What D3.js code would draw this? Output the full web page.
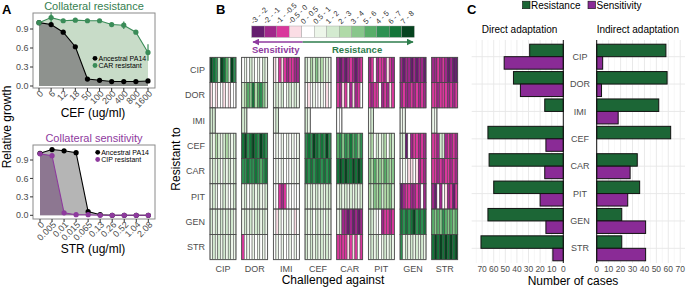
<html>
<head>
<script src="https://d3js.org/d3.v7.min.js"></script>
<style>
  body { margin: 0; background: white; }
  text { font-family: "Liberation Sans", Arial, sans-serif; }
</style>
</head>
<body>
<svg id="fig" width="686" height="287"></svg>
<script>
// ---- panel A data ----
const cefDoses = ["0","6","12","18","50","100","200","400","800","1600"];
const cefAncestral = [1.0,0.97,0.85,0.62,0.11,0.09,0.07,0.07,0.07,0.08];
const cefCarRes = [1.0,1.08,1.03,1.04,1.03,1.03,0.97,0.96,0.85,0.53];
const cefCarErr = [0,0.09,0.02,0.02,0.02,0.02,0.02,0.06,0.03,0.13];

const strDoses = ["0","0.005","0.01","0.015","0.065","0.13","0.26","0.52","1.04","2.08"];
const strAncestral = [1.01,1.07,1.05,1.02,0.06,0.01,0,0,0,0];
const strCipRes = [1.0,0.97,0.04,0.01,0.01,0,0,0,0,0];

const growthTicks = [0, 0.3, 0.6, 0.9];

// ---- panel B data (colour bin per population, 0..c) ----
const drugs = ["CIP","DOR","IMI","CEF","CAR","PIT","GEN","STR"];
const binLabels = ["-3 - -2","-2 - -1","-1 - -0.5","-0.5 - 0","0 - 0.5","0.5 - 1","1 - 2","2 - 3","3 - 4","5 - 6","4 - 5","6 - 7","7 - 8"];
const binColors = ["#651d6e","#a0278a","#d9389c","#fbdde5","#ffffff","#edf6ea","#d3ead0","#b0daa8","#88c68b","#58ad69","#2d9152","#137539","#06431f"];

// columns: challenged against CIP..STR
const heatCIP = ["cba6cb96ca","4546545465","3423212211","6576867565","1010121012","1241221321","1011010110","1121210100"];
const heatDOR = ["3434434344","6798b79a86","5656456565","4345445434","2132413124","2122412132","1211212121","2212221212"];
const heatIMI = ["66","66","56","65","44","56","55","55"];
const heatCEF = ["6576567656","bcabcbacba","4545454545","abacbabaca","9a8a9b9a8a","6746567476","6604122121","2216612121"];
const heatCAR = ["5656465656","aabaaba9ab","4545444545","bababbabab","bcbcbbcbcb","8797879878","4543343121","2212122121"];
const heatPIT = ["5654565456","5645656556","4421244444","6565656566","5656565656","7687867786","0122112141","1041431202"];
const heatGEN = ["6565656565","5656566565","4354545434","6564656465","5611010101","6654412212","bababcabab","9898a98989"];
const heatSTR = ["5656565655","2454545454","4545445454","6565656565","2222323242","5656456565","a565656565","bcbcbcbcbc"];

// ---- panel C data ----
const directRes = [29,43,16,65,64,60,65,71];
const directSens = [51,37,0,15,16,20,15,9];
const indirectRes = [58,59,52,62,34,36,21,21];
const indirectSens = [5,4,18,0,28,26,41,41];
const caseTicks = [0,10,20,30,40,50,60,70];

const svg = d3.select("#fig");
const GREEN = "#3a8c58", PURPLE = "#8e3a9e", AXIS = "#4d4d4d";

// panel letters
[["A",2],["B",216],["C",467]].forEach(([t,x]) => {
  svg.append("text").attr("x", x).attr("y", 14).attr("font-size", 13)
    .attr("font-weight", "bold").text(t);
});

function growthPanel(o) {
  const g = svg.append("g");
  const x = d3.scalePoint().domain(o.doses).range(o.xr);
  const y = d3.scaleLinear().domain([0, 0.9]).range(o.yr);
  const [x0, y0, x1, y1] = o.box;

  g.append("rect").attr("x", x0).attr("y", y0).attr("width", x1 - x0)
    .attr("height", y1 - y0).attr("fill", "white");

  const area = d3.area().x((d, i) => x(o.doses[i])).y0(y(0)).y1(d => y(d));
  const line = d3.line().x((d, i) => x(o.doses[i])).y(d => y(d));

  o.fills.forEach(f => {
    g.append("path").attr("d", area(f.vals)).attr("fill", f.fill);
  });

  if (o.err) {
    g.selectAll("line.err").data(o.err).join("line")
      .attr("x1", (d, i) => x(o.doses[i])).attr("x2", (d, i) => x(o.doses[i]))
      .attr("y1", (d, i) => y(o.series[1].vals[i] - d))
      .attr("y2", (d, i) => y(o.series[1].vals[i] + d))
      .attr("stroke", o.series[1].color).attr("stroke-width", 1.2);
  }

  o.series.forEach(s => {
    g.append("path").attr("d", line(s.vals)).attr("fill", "none")
      .attr("stroke", s.color).attr("stroke-width", 1.1);
    g.selectAll(null).data(s.vals).join("circle")
      .attr("cx", (d, i) => x(o.doses[i])).attr("cy", d => y(d))
      .attr("r", 2.6).attr("fill", s.color);
  });

  g.append("rect").attr("x", x0).attr("y", y0).attr("width", x1 - x0)
    .attr("height", y1 - y0).attr("fill", "none").attr("stroke", "#8a8a8a");

  growthTicks.forEach(t => {
    g.append("line").attr("x1", x0 - 3).attr("x2", x0).attr("y1", y(t)).attr("y2", y(t))
      .attr("stroke", "#333");
    g.append("text").attr("x", x0 - 4.5).attr("y", y(t)).attr("dy", "0.35em")
      .attr("text-anchor", "end").attr("font-size", 9).attr("fill", AXIS)
      .text(d3.format(".1f")(t));
  });

  o.doses.forEach(d => {
    g.append("line").attr("x1", x(d)).attr("x2", x(d)).attr("y1", y1).attr("y2", y1 + 3)
      .attr("stroke", "#333");
    g.append("text").attr("transform", `translate(${x(d) + 2.5},${y1 + 4}) rotate(-45)`)
      .attr("text-anchor", "end").attr("dy", "0.35em").attr("font-size", 9)
      .attr("fill", AXIS).text(d);
  });

  g.append("text").attr("x", 94).attr("y", o.titleY).attr("text-anchor", "middle")
    .attr("font-size", 11).attr("fill", o.titleColor).text(o.title);
  g.append("text").attr("x", 93).attr("y", o.xlabY).attr("text-anchor", "middle")
    .attr("font-size", 12).text(o.xlab);

  o.series.forEach((s, i) => {
    const ly = o.legY + i * 7.2;
    g.append("circle").attr("cx", o.legX).attr("cy", ly).attr("r", 2.4).attr("fill", s.color);
    g.append("text").attr("x", o.legX + 3.5).attr("y", ly).attr("dy", "0.35em")
      .attr("font-size", 7).text(s.name);
  });
}

growthPanel({
  doses: cefDoses, box: [33, 13, 155, 88], xr: [39, 148], yr: [86, 29],
  fills: [{ vals: cefCarRes, fill: "#c8dcc8" }, { vals: cefAncestral, fill: "#8e928e" }],
  series: [{ vals: cefAncestral, color: "#000", name: "Ancestral PA14" },
           { vals: cefCarRes, color: GREEN, name: "CAR resistant" }],
  err: cefCarErr,
  title: "Collateral resistance", titleY: 10, titleColor: "#35804f",
  xlab: "CEF (ug/ml)", xlabY: 117, legX: 95, legY: 58.3
});

growthPanel({
  doses: strDoses, box: [33, 145, 155, 219], xr: [40, 148.3], yr: [215.3, 160],
  fills: [{ vals: strAncestral, fill: "#b5b5b5" }, { vals: strCipRes, fill: "#8d7791" }],
  series: [{ vals: strAncestral, color: "#000", name: "Ancestral PA14" },
           { vals: strCipRes, color: PURPLE, name: "CIP resistant" }],
  title: "Collateral sensitivity", titleY: 142, titleColor: PURPLE,
  xlab: "STR (ug/ml)", xlabY: 253, legX: 97.7, legY: 152.3
});

svg.append("text").attr("transform", "translate(11,127) rotate(-90)")
  .attr("text-anchor", "middle").attr("font-size", 12).text("Relative growth");

// ---- panel B ----
const gB = svg.append("g");
const binX = d3.scaleBand().domain(d3.range(binLabels.length)).range([251.7, 414.3]);
gB.selectAll("rect.bin").data(binLabels).join("rect")
  .attr("x", (d, i) => binX(i)).attr("y", 26).attr("width", binX.bandwidth()).attr("height", 11.3)
  .attr("fill", (d, i) => binColors[i]).attr("stroke", "#999").attr("stroke-width", 0.4);
gB.selectAll("text.bin").data(binLabels).join("text")
  .attr("transform", (d, i) => `translate(${binX(i) + 2},${24.5}) rotate(-45)`)
  .attr("font-size", 7.5).attr("fill", "#333").text(d => d);

gB.append("defs").html(
  `<marker id="ap" viewBox="0 0 10 10" refX="9" refY="5" markerWidth="5" markerHeight="5" orient="auto-start-reverse"><path d="M0,0L10,5L0,10z" fill="${PURPLE}"/></marker>` +
  `<marker id="ag" viewBox="0 0 10 10" refX="9" refY="5" markerWidth="5" markerHeight="5" orient="auto-start-reverse"><path d="M0,0L10,5L0,10z" fill="#2e7d4c"/></marker>`);
gB.append("line").attr("x1", 302.7).attr("x2", 253).attr("y1", 42).attr("y2", 42)
  .attr("stroke", PURPLE).attr("stroke-width", 1.4).attr("marker-end", "url(#ap)");
gB.append("line").attr("x1", 302.7).attr("x2", 413).attr("y1", 42).attr("y2", 42)
  .attr("stroke", "#2e7d4c").attr("stroke-width", 1.4).attr("marker-end", "url(#ag)");
gB.append("text").attr("x", 252).attr("y", 52.5).attr("font-size", 9.5).attr("font-weight", "bold")
  .attr("fill", PURPLE).text("Sensitivity");
gB.append("text").attr("x", 332).attr("y", 53).attr("font-size", 9.5).attr("font-weight", "bold")
  .attr("fill", "#2e7d4c").text("Resistance");

const heatRows = [heatCIP, heatDOR, heatIMI, heatCEF, heatCAR, heatPIT, heatGEN, heatSTR];
const colX = d3.scaleBand().domain(drugs).range([210, 457.7]).paddingInner(0.18);
const rowY = d3.scaleBand().domain(drugs).range([57.3, 259.7]);
const stripeX = d3.scaleBand().domain(d3.range(10)).range([0, colX.bandwidth()]);

heatRows.forEach((row, r) => {
  row.forEach((codes, c) => {
    const bx = colX(drugs[c]), by = rowY(drugs[r]);
    const cells = codes.split("").map(ch => parseInt(ch, 16));
    gB.selectAll(null).data(cells).join("rect")
      .attr("x", (d, k) => bx + stripeX(k)).attr("y", by)
      .attr("width", stripeX.bandwidth()).attr("height", rowY.bandwidth())
      .attr("fill", d => binColors[d]).attr("stroke", "#3a3a3a").attr("stroke-width", 0.45);
    gB.append("rect").attr("x", bx).attr("y", by)
      .attr("width", stripeX.bandwidth() * cells.length).attr("height", rowY.bandwidth())
      .attr("fill", "none").attr("stroke", "#4a4a4a").attr("stroke-width", 0.8);
  });
});

gB.selectAll("text.row").data(drugs).join("text")
  .attr("x", 205).attr("y", d => rowY(d) + rowY.bandwidth() / 2).attr("dy", "0.35em")
  .attr("text-anchor", "end").attr("font-size", 9).attr("fill", AXIS).text(d => d);
gB.selectAll("text.col").data(drugs).join("text")
  .attr("x", d => colX(d) + colX.bandwidth() / 2).attr("y", 272)
  .attr("text-anchor", "middle").attr("font-size", 9).attr("fill", AXIS).text(d => d);
gB.append("text").attr("x", 333).attr("y", 284).attr("text-anchor", "middle")
  .attr("font-size", 12).text("Challenged against");
gB.append("text").attr("transform", "translate(180,159) rotate(-90)")
  .attr("text-anchor", "middle").attr("font-size", 12).text("Resistant to");

// ---- panel C ----
const gC = svg.append("g");
const yC = d3.scaleBand().domain(drugs).range([43, 262]);
const yIn = d3.scaleBand().domain(["Resistance", "Sensitivity"]).range([1.2, yC.bandwidth() - 1.2]);
const barColor = { Resistance: "#1c6636", Sensitivity: "#8a2b96" };

function casePanel(x, x0, x1, res, sens) {
  const lo = Math.min(x0, x1), hi = Math.max(x0, x1);
  gC.append("rect").attr("x", lo).attr("y", 40).attr("width", hi - lo).attr("height", 223).attr("fill", "white");
  d3.range(5, 80, 10).forEach(v => {
    if (x(v) >= lo && x(v) <= hi)
      gC.append("line").attr("x1", x(v)).attr("x2", x(v)).attr("y1", 40).attr("y2", 263)
        .attr("stroke", "#f2f2f2").attr("stroke-width", 0.6);
  });
  caseTicks.forEach(v => {
    gC.append("line").attr("x1", x(v)).attr("x2", x(v)).attr("y1", 40).attr("y2", 263)
      .attr("stroke", "#e6e6e6").attr("stroke-width", 0.9);
    gC.append("text").attr("x", x(v)).attr("y", 272).attr("text-anchor", "middle")
      .attr("font-size", 8.5).attr("fill", AXIS).text(v);
  });
  drugs.forEach(d => {
    gC.append("line").attr("x1", lo).attr("x2", hi)
      .attr("y1", yC(d) + yC.bandwidth() / 2).attr("y2", yC(d) + yC.bandwidth() / 2)
      .attr("stroke", "#e6e6e6").attr("stroke-width", 0.9);
  });
  const rows = [];
  drugs.forEach((d, i) => {
    rows.push({ drug: d, type: "Resistance", v: res[i] });
    rows.push({ drug: d, type: "Sensitivity", v: sens[i] });
  });
  gC.selectAll(null).data(rows.filter(r => r.v > 0)).join("rect")
    .attr("x", r => Math.min(x(0), x(r.v))).attr("width", r => Math.abs(x(r.v) - x(0)))
    .attr("y", r => yC(r.drug) + yIn(r.type)).attr("height", yIn.bandwidth())
    .attr("fill", r => barColor[r.type]).attr("stroke", "#111").attr("stroke-width", 1);
  gC.append("line").attr("x1", x(0)).attr("x2", x(0)).attr("y1", 40).attr("y2", 263)
    .attr("stroke", "#111").attr("stroke-width", 1);
}

const xDirect = d3.scaleLinear().domain([0, 79]).range([563.3, 471.7]);
const xIndirect = d3.scaleLinear().domain([0, 74]).range([596.7, 685]);
casePanel(xDirect, 563.3, 471.7, directRes, directSens);
casePanel(xIndirect, 596.7, 685, indirectRes, indirectSens);

gC.selectAll("text.cat").data(drugs).join("text")
  .attr("x", 580).attr("y", d => yC(d) + yC.bandwidth() / 2).attr("dy", "0.35em")
  .attr("text-anchor", "middle").attr("font-size", 9).attr("fill", AXIS).text(d => d);

gC.append("text").attr("x", 481.7).attr("y", 33).attr("font-size", 10).text("Direct adaptation");
gC.append("text").attr("x", 596.7).attr("y", 33).attr("font-size", 10).text("Indirect adaptation");
gC.append("text").attr("x", 573).attr("y", 285).attr("text-anchor", "middle")
  .attr("font-size", 12).text("Number of cases");

[["Resistance", 522.5], ["Sensitivity", 588]].forEach(([t, lx]) => {
  gC.append("rect").attr("x", lx).attr("y", 1.2).attr("width", 7.5).attr("height", 7.5)
    .attr("fill", barColor[t]).attr("stroke", "#111").attr("stroke-width", 0.6);
  gC.append("text").attr("x", lx + 8.5).attr("y", 8.5).attr("font-size", 10).text(t);
});
</script>
</body>
</html>
